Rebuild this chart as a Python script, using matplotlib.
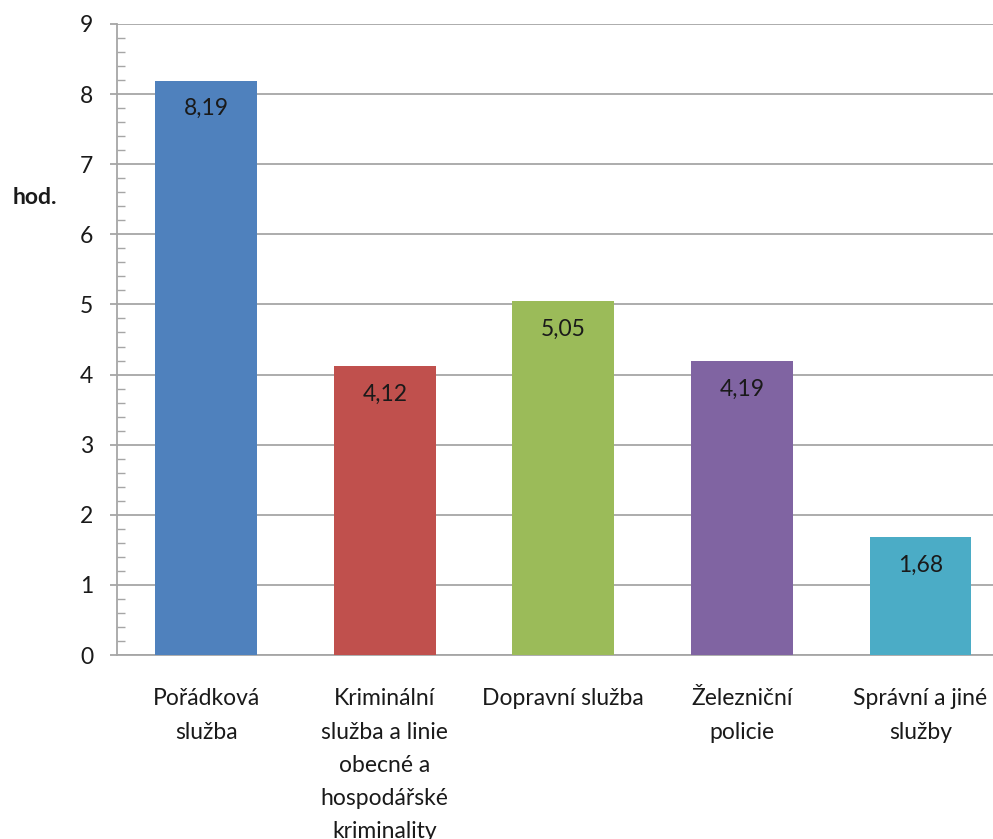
import matplotlib.pyplot as plt
from matplotlib.ticker import MultipleLocator

plt.rcParams['font.family'] = ['Lato', 'DejaVu Sans']

labels = ['Pořádková\nslužba',
          'Kriminální\nslužba a linie\nobecné a\nhospodářské\nkriminality',
          'Dopravní služba',
          'Železniční\npolicie',
          'Správní a jiné\nslužby']
hours = [8.19, 4.12, 5.05, 4.19, 1.68]
value_text = ['8,19', '4,12', '5,05', '4,19', '1,68']
colors = ['#4F81BD', '#C0504D', '#9BBB59', '#8064A2', '#4BACC6']

fig = plt.figure(figsize=(9.93, 8.39), dpi=100)
ax = fig.add_axes([0.1178, 0.2193, 0.899, 0.7521])

x = range(len(hours))
ax.bar(x, hours, width=0.57, color=colors, zorder=3)
for i, (v, t) in enumerate(zip(hours, value_text)):
    ax.annotate(t, (i, v), xytext=(0, -28), textcoords='offset pixels',
                ha='center', va='center', fontsize=16.5, color='#1a1a1a', zorder=4)

ax.set_xlim(-0.5, 4.5)
ax.set_ylim(0, 9)
ax.yaxis.set_major_locator(MultipleLocator(1))
ax.yaxis.set_minor_locator(MultipleLocator(0.2))
ax.grid(axis='y', color='#A6A6A6', linewidth=1.3, zorder=0)

for side in ['top', 'right']:
    ax.spines[side].set_visible(False)
ax.spines['left'].set_color('#A6A6A6')
ax.spines['bottom'].set_color('#A6A6A6')
ax.spines['left'].set_linewidth(1.3)
ax.spines['bottom'].set_linewidth(1.3)

ax.tick_params(axis='y', which='major', direction='out', length=5, width=1.3,
               color='#A6A6A6', labelsize=16.5, pad=12, labelcolor='#1a1a1a')
ax.tick_params(axis='y', which='minor', direction='in', length=6, width=1.0,
               color='#A6A6A6')
ax.tick_params(axis='x', length=0, pad=24, labelcolor='#1a1a1a')
ax.set_xticks(list(x))
ax.set_xticklabels(labels, fontsize=16.5, va='top', linespacing=1.72)

fig.text(0.035, 1 - 197 / 839, 'hod.', fontsize=16.5, fontweight='bold',
         ha='center', va='center', color='#1a1a1a')

fig.savefig('out.png', dpi=100)
